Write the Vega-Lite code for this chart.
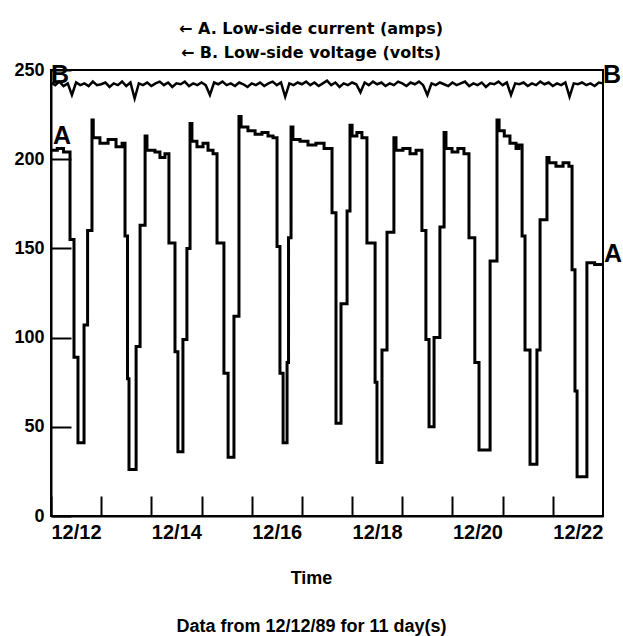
{
  "$schema": "https://vega.github.io/schema/vega-lite/v6.json",
  "width": 552,
  "height": 446,
  "autosize": {"type": "none"},
  "padding": {"left": 51, "top": 70, "right": 20, "bottom": 120},
  "background": "white",
  "config": {
    "font": "Liberation Sans",
    "view": {"stroke": "black", "strokeWidth": 2},
    "axis": {"domainColor": "black", "domainWidth": 2, "tickColor": "black", "tickWidth": 2, "labelColor": "black", "labelFont": "Liberation Sans", "labelFontWeight": "bold", "grid": false, "titleColor": "black", "titleFont": "Liberation Sans"}
  },
  "title": {
    "text": ["← A. Low-side current (amps)", "← B. Low-side voltage (volts)"],
    "font": "DejaVu Sans", "fontSize": 16, "fontWeight": "bold", "color": "black",
    "lineHeight": 24, "anchor": "middle", "offset": 0, "dx": -16
  },
  "datasets": {
    "A": [
      {"t": "1989-12-12T00:00", "v": 205}, {"t": "1989-12-12T03:00", "v": 206}, {"t": "1989-12-12T06:00", "v": 204},
      {"t": "1989-12-12T09:06", "v": 155}, {"t": "1989-12-12T11:00", "v": 89}, {"t": "1989-12-12T12:54", "v": 41},
      {"t": "1989-12-12T15:48", "v": 107}, {"t": "1989-12-12T17:30", "v": 160}, {"t": "1989-12-12T19:36", "v": 222},
      {"t": "1989-12-12T20:12", "v": 212}, {"t": "1989-12-12T23:24", "v": 209}, {"t": "1989-12-13T03:18", "v": 211},
      {"t": "1989-12-13T07:06", "v": 207}, {"t": "1989-12-13T10:00", "v": 209},
      {"t": "1989-12-13T11:24", "v": 157}, {"t": "1989-12-13T12:36", "v": 77}, {"t": "1989-12-13T13:18", "v": 26},
      {"t": "1989-12-13T16:42", "v": 95}, {"t": "1989-12-13T18:36", "v": 163}, {"t": "1989-12-13T21:00", "v": 213},
      {"t": "1989-12-13T21:54", "v": 205}, {"t": "1989-12-14T01:42", "v": 204}, {"t": "1989-12-14T04:06", "v": 201},
      {"t": "1989-12-14T06:30", "v": 203},
      {"t": "1989-12-14T08:24", "v": 153}, {"t": "1989-12-14T11:18", "v": 92}, {"t": "1989-12-14T12:42", "v": 36},
      {"t": "1989-12-14T15:06", "v": 99}, {"t": "1989-12-14T17:00", "v": 150}, {"t": "1989-12-14T18:30", "v": 220},
      {"t": "1989-12-14T19:24", "v": 210}, {"t": "1989-12-14T21:48", "v": 207}, {"t": "1989-12-15T00:42", "v": 209},
      {"t": "1989-12-15T03:06", "v": 205}, {"t": "1989-12-15T05:30", "v": 203},
      {"t": "1989-12-15T07:24", "v": 153}, {"t": "1989-12-15T10:42", "v": 80}, {"t": "1989-12-15T12:42", "v": 33},
      {"t": "1989-12-15T15:30", "v": 112}, {"t": "1989-12-15T17:54", "v": 224}, {"t": "1989-12-15T18:54", "v": 218},
      {"t": "1989-12-15T22:12", "v": 216}, {"t": "1989-12-16T01:36", "v": 214}, {"t": "1989-12-16T04:54", "v": 215},
      {"t": "1989-12-16T07:48", "v": 213}, {"t": "1989-12-16T10:12", "v": 212},
      {"t": "1989-12-16T12:06", "v": 151}, {"t": "1989-12-16T13:30", "v": 80}, {"t": "1989-12-16T15:00", "v": 41},
      {"t": "1989-12-16T16:54", "v": 86}, {"t": "1989-12-16T17:36", "v": 156}, {"t": "1989-12-16T18:48", "v": 218},
      {"t": "1989-12-16T19:42", "v": 211}, {"t": "1989-12-16T23:06", "v": 210}, {"t": "1989-12-17T02:54", "v": 208},
      {"t": "1989-12-17T06:42", "v": 209}, {"t": "1989-12-17T10:36", "v": 206},
      {"t": "1989-12-17T14:24", "v": 170}, {"t": "1989-12-17T16:18", "v": 52}, {"t": "1989-12-17T18:42", "v": 119},
      {"t": "1989-12-17T21:36", "v": 171}, {"t": "1989-12-17T23:00", "v": 219}, {"t": "1989-12-18T00:00", "v": 213},
      {"t": "1989-12-18T02:18", "v": 215}, {"t": "1989-12-18T04:42", "v": 212},
      {"t": "1989-12-18T07:06", "v": 153}, {"t": "1989-12-18T11:00", "v": 75}, {"t": "1989-12-18T11:54", "v": 30},
      {"t": "1989-12-18T14:18", "v": 93}, {"t": "1989-12-18T16:42", "v": 159}, {"t": "1989-12-18T20:00", "v": 212},
      {"t": "1989-12-18T21:00", "v": 205}, {"t": "1989-12-19T00:18", "v": 206}, {"t": "1989-12-19T03:42", "v": 203},
      {"t": "1989-12-19T06:36", "v": 205},
      {"t": "1989-12-19T09:24", "v": 160}, {"t": "1989-12-19T11:18", "v": 99}, {"t": "1989-12-19T12:48", "v": 50},
      {"t": "1989-12-19T15:12", "v": 100}, {"t": "1989-12-19T18:00", "v": 162}, {"t": "1989-12-19T20:00", "v": 215},
      {"t": "1989-12-19T20:54", "v": 206}, {"t": "1989-12-19T23:48", "v": 204}, {"t": "1989-12-20T02:36", "v": 206},
      {"t": "1989-12-20T05:30", "v": 203},
      {"t": "1989-12-20T07:54", "v": 156}, {"t": "1989-12-20T10:42", "v": 86}, {"t": "1989-12-20T12:42", "v": 37},
      {"t": "1989-12-20T18:00", "v": 143}, {"t": "1989-12-20T21:18", "v": 222}, {"t": "1989-12-20T22:18", "v": 216},
      {"t": "1989-12-21T00:48", "v": 213}, {"t": "1989-12-21T03:30", "v": 209}, {"t": "1989-12-21T06:24", "v": 206},
      {"t": "1989-12-21T07:48", "v": 208},
      {"t": "1989-12-21T09:18", "v": 157}, {"t": "1989-12-21T10:42", "v": 93}, {"t": "1989-12-21T13:06", "v": 29},
      {"t": "1989-12-21T16:24", "v": 93}, {"t": "1989-12-21T17:54", "v": 166}, {"t": "1989-12-21T21:12", "v": 201},
      {"t": "1989-12-21T22:12", "v": 198}, {"t": "1989-12-22T01:30", "v": 196}, {"t": "1989-12-22T04:54", "v": 198},
      {"t": "1989-12-22T07:42", "v": 196},
      {"t": "1989-12-22T09:12", "v": 138}, {"t": "1989-12-22T10:36", "v": 70}, {"t": "1989-12-22T11:36", "v": 22},
      {"t": "1989-12-22T16:18", "v": 142}, {"t": "1989-12-22T20:00", "v": 141}, {"t": "1989-12-23T00:00", "v": 141}
    ],
    "B": [
      {"t": "1989-12-12T00:00", "v": 243}, {"t": "1989-12-12T02:00", "v": 241.5}, {"t": "1989-12-12T04:00", "v": 243.5}, {"t": "1989-12-12T06:00", "v": 241}, {"t": "1989-12-12T08:00", "v": 242.5}, {"t": "1989-12-12T10:00", "v": 236}, {"t": "1989-12-12T12:00", "v": 243}, {"t": "1989-12-12T14:00", "v": 241.5}, {"t": "1989-12-12T16:00", "v": 242.5}, {"t": "1989-12-12T18:00", "v": 241}, {"t": "1989-12-12T20:00", "v": 243.5}, {"t": "1989-12-12T22:00", "v": 241.5},
      {"t": "1989-12-13T00:00", "v": 242}, {"t": "1989-12-13T02:00", "v": 243}, {"t": "1989-12-13T04:00", "v": 240.5}, {"t": "1989-12-13T06:00", "v": 242.5}, {"t": "1989-12-13T08:00", "v": 241.5}, {"t": "1989-12-13T10:00", "v": 243.5}, {"t": "1989-12-13T12:00", "v": 241}, {"t": "1989-12-13T14:00", "v": 243}, {"t": "1989-12-13T16:00", "v": 234}, {"t": "1989-12-13T18:00", "v": 242.5}, {"t": "1989-12-13T20:00", "v": 241.5}, {"t": "1989-12-13T22:00", "v": 243},
      {"t": "1989-12-14T00:00", "v": 241}, {"t": "1989-12-14T02:00", "v": 242.5}, {"t": "1989-12-14T04:00", "v": 243.5}, {"t": "1989-12-14T06:00", "v": 241.5}, {"t": "1989-12-14T08:00", "v": 243}, {"t": "1989-12-14T10:00", "v": 240.5}, {"t": "1989-12-14T12:00", "v": 242.5}, {"t": "1989-12-14T14:00", "v": 242}, {"t": "1989-12-14T16:00", "v": 243.5}, {"t": "1989-12-14T18:00", "v": 241}, {"t": "1989-12-14T20:00", "v": 242.5}, {"t": "1989-12-14T22:00", "v": 241.5},
      {"t": "1989-12-15T00:00", "v": 243}, {"t": "1989-12-15T02:00", "v": 241.5}, {"t": "1989-12-15T04:00", "v": 236}, {"t": "1989-12-15T06:00", "v": 243}, {"t": "1989-12-15T08:00", "v": 242}, {"t": "1989-12-15T10:00", "v": 243.5}, {"t": "1989-12-15T12:00", "v": 241.5}, {"t": "1989-12-15T14:00", "v": 242.5}, {"t": "1989-12-15T16:00", "v": 241}, {"t": "1989-12-15T18:00", "v": 243}, {"t": "1989-12-15T20:00", "v": 242}, {"t": "1989-12-15T22:00", "v": 240.5},
      {"t": "1989-12-16T00:00", "v": 242.5}, {"t": "1989-12-16T02:00", "v": 241.5}, {"t": "1989-12-16T04:00", "v": 243}, {"t": "1989-12-16T06:00", "v": 241}, {"t": "1989-12-16T08:00", "v": 242.5}, {"t": "1989-12-16T10:00", "v": 243.5}, {"t": "1989-12-16T12:00", "v": 241.5}, {"t": "1989-12-16T14:00", "v": 243}, {"t": "1989-12-16T16:00", "v": 235}, {"t": "1989-12-16T18:00", "v": 242.5}, {"t": "1989-12-16T20:00", "v": 241.5}, {"t": "1989-12-16T22:00", "v": 243},
      {"t": "1989-12-17T00:00", "v": 242}, {"t": "1989-12-17T02:00", "v": 243.5}, {"t": "1989-12-17T04:00", "v": 241.5}, {"t": "1989-12-17T06:00", "v": 243}, {"t": "1989-12-17T08:00", "v": 241}, {"t": "1989-12-17T10:00", "v": 242.5}, {"t": "1989-12-17T12:00", "v": 244}, {"t": "1989-12-17T14:00", "v": 241.5}, {"t": "1989-12-17T16:00", "v": 243}, {"t": "1989-12-17T18:00", "v": 240.5}, {"t": "1989-12-17T20:00", "v": 242.5}, {"t": "1989-12-17T22:00", "v": 241.5},
      {"t": "1989-12-18T00:00", "v": 243}, {"t": "1989-12-18T02:00", "v": 242}, {"t": "1989-12-18T04:00", "v": 237.5}, {"t": "1989-12-18T06:00", "v": 243}, {"t": "1989-12-18T08:00", "v": 241.5}, {"t": "1989-12-18T10:00", "v": 243.5}, {"t": "1989-12-18T12:00", "v": 242}, {"t": "1989-12-18T14:00", "v": 243}, {"t": "1989-12-18T16:00", "v": 241}, {"t": "1989-12-18T18:00", "v": 242.5}, {"t": "1989-12-18T20:00", "v": 241.5}, {"t": "1989-12-18T22:00", "v": 243.5},
      {"t": "1989-12-19T00:00", "v": 242.5}, {"t": "1989-12-19T02:00", "v": 241}, {"t": "1989-12-19T04:00", "v": 243}, {"t": "1989-12-19T06:00", "v": 242}, {"t": "1989-12-19T08:00", "v": 243.5}, {"t": "1989-12-19T10:00", "v": 241.5}, {"t": "1989-12-19T12:00", "v": 236}, {"t": "1989-12-19T14:00", "v": 242.5}, {"t": "1989-12-19T16:00", "v": 241.5}, {"t": "1989-12-19T18:00", "v": 243}, {"t": "1989-12-19T20:00", "v": 242}, {"t": "1989-12-19T22:00", "v": 241},
      {"t": "1989-12-20T00:00", "v": 243}, {"t": "1989-12-20T02:00", "v": 241.5}, {"t": "1989-12-20T04:00", "v": 242.5}, {"t": "1989-12-20T06:00", "v": 243.5}, {"t": "1989-12-20T08:00", "v": 241}, {"t": "1989-12-20T10:00", "v": 242.5}, {"t": "1989-12-20T12:00", "v": 241.5}, {"t": "1989-12-20T14:00", "v": 243}, {"t": "1989-12-20T16:00", "v": 240.5}, {"t": "1989-12-20T18:00", "v": 242.5}, {"t": "1989-12-20T20:00", "v": 242}, {"t": "1989-12-20T22:00", "v": 243.5},
      {"t": "1989-12-21T00:00", "v": 241.5}, {"t": "1989-12-21T02:00", "v": 243}, {"t": "1989-12-21T04:00", "v": 236}, {"t": "1989-12-21T06:00", "v": 242.5}, {"t": "1989-12-21T08:00", "v": 242}, {"t": "1989-12-21T10:00", "v": 243}, {"t": "1989-12-21T12:00", "v": 241}, {"t": "1989-12-21T14:00", "v": 242.5}, {"t": "1989-12-21T16:00", "v": 241.5}, {"t": "1989-12-21T18:00", "v": 243.5}, {"t": "1989-12-21T20:00", "v": 242}, {"t": "1989-12-21T22:00", "v": 243},
      {"t": "1989-12-22T00:00", "v": 241}, {"t": "1989-12-22T02:00", "v": 242.5}, {"t": "1989-12-22T04:00", "v": 241.5}, {"t": "1989-12-22T06:00", "v": 243}, {"t": "1989-12-22T08:00", "v": 235}, {"t": "1989-12-22T10:00", "v": 242.5}, {"t": "1989-12-22T12:00", "v": 242}, {"t": "1989-12-22T14:00", "v": 243}, {"t": "1989-12-22T16:00", "v": 241.5}, {"t": "1989-12-22T18:00", "v": 242.5}, {"t": "1989-12-22T20:00", "v": 241}, {"t": "1989-12-22T22:00", "v": 243},
      {"t": "1989-12-23T00:00", "v": 242.5}
    ],
    "labels": [
      {"t": "1989-12-12T05:18", "v": 213, "s": "A"},
      {"t": "1989-12-12T04:18", "v": 247, "s": "B"},
      {"t": "1989-12-23T04:48", "v": 147, "s": "A"},
      {"t": "1989-12-23T04:18", "v": 247, "s": "B"}
    ]
  },
  "encoding": {
    "x": {
      "field": "t", "type": "temporal",
      "scale": {"type": "time", "domain": [{"year": 1989, "month": 12, "date": 12}, {"year": 1989, "month": 12, "date": 23}]},
      "axis": {
        "values": [
          {"year": 1989, "month": 12, "date": 12}, {"year": 1989, "month": 12, "date": 13}, {"year": 1989, "month": 12, "date": 14},
          {"year": 1989, "month": 12, "date": 15}, {"year": 1989, "month": 12, "date": 16}, {"year": 1989, "month": 12, "date": 17},
          {"year": 1989, "month": 12, "date": 18}, {"year": 1989, "month": 12, "date": 19}, {"year": 1989, "month": 12, "date": 20},
          {"year": 1989, "month": 12, "date": 21}, {"year": 1989, "month": 12, "date": 22}
        ],
        "labelExpr": "date(datum.value) % 2 == 0 ? timeFormat(datum.value, '%m/%d') : ''",
        "tickSize": -20, "labelPadding": 26, "labelOffset": 25, "labelFontSize": 20,
        "labelOverlap": false, "labelFlush": false,
        "title": ["Time", "Data from 12/12/89 for 11 day(s)"],
        "titleFontSize": 18, "titleFontWeight": "bold", "titleLineHeight": 48,
        "titleX": 260, "titleY": 53, "titleBaseline": "top", "titleAlign": "center"
      }
    },
    "y": {
      "field": "v", "type": "quantitative",
      "scale": {"domain": [0, 250], "nice": false},
      "axis": {"values": [0, 50, 100, 150, 200, 250], "tickSize": -20, "labelPadding": 27, "labelFontSize": 18, "title": null}
    }
  },
  "layer": [
    {"data": {"name": "B"}, "mark": {"type": "line", "color": "black", "strokeWidth": 2.5}},
    {"data": {"name": "A"}, "mark": {"type": "line", "interpolate": "step-after", "color": "black", "strokeWidth": 3}},
    {"data": {"name": "labels"}, "mark": {"type": "text", "font": "Liberation Sans", "fontSize": 25, "fontWeight": "bold", "color": "black", "align": "center", "baseline": "middle"}, "encoding": {"text": {"field": "s"}}}
  ]
}
